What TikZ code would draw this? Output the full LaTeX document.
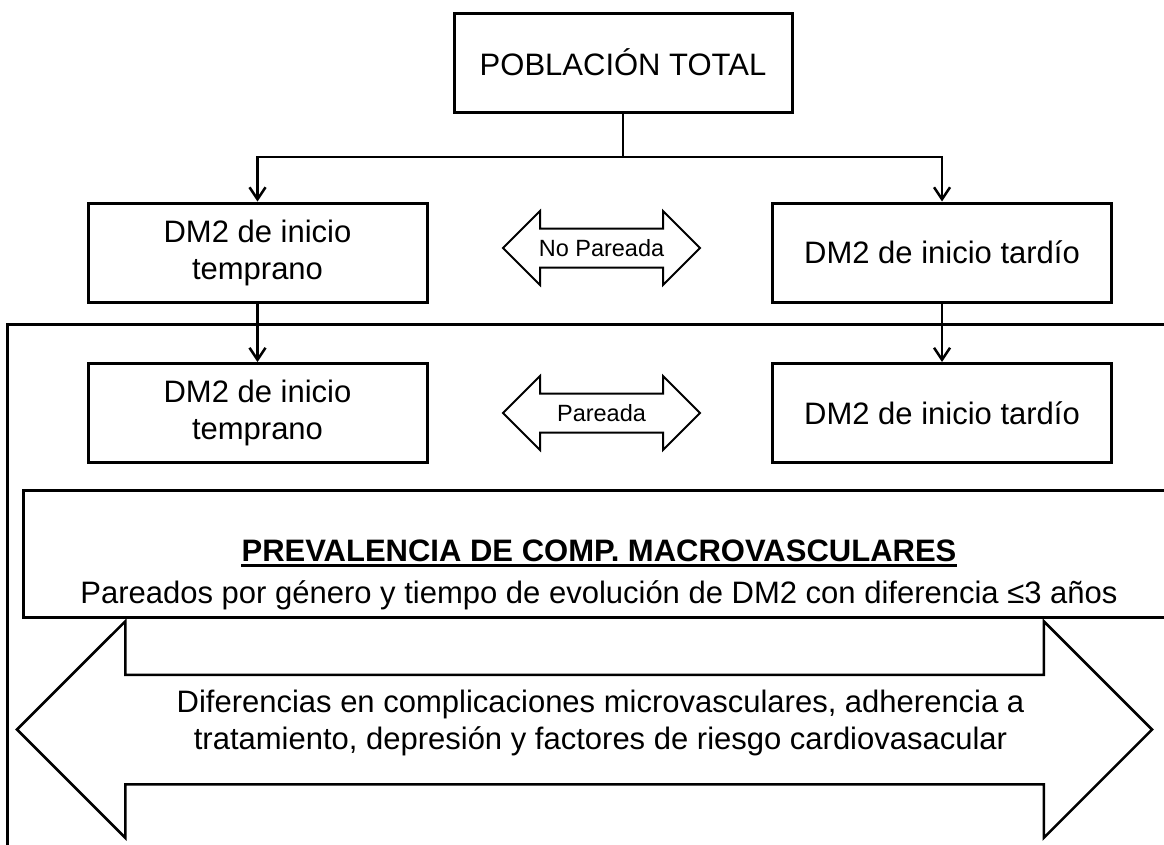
\documentclass[tikz,border=0pt]{standalone}
\usepackage{fontspec}
\setmainfont{Liberation Sans}
\usetikzlibrary{arrows.meta,shapes.arrows}

\tikzset{
    caja/.style={draw, line width=3pt, minimum width=339pt, minimum height=99pt, align=center, inner sep=0pt},
    flecha/.style={line width=2.5pt, -{Straight Barb[length=12pt,width=16pt]}},
    pareo/.style={double arrow, draw, line width=2pt, font=\fontsize{23.5}{28}\selectfont, minimum height=197pt, double arrow head extend=17.5pt, text height=17pt, text depth=0pt, inner ysep=10pt, inner xsep=0pt},
    grande/.style={double arrow, draw, line width=2.5pt, minimum height=1135pt, double arrow head extend=53.5pt, text height=23pt, text depth=44pt, inner ysep=20pt, inner xsep=0pt}
}

\begin{document}
\begin{tikzpicture}[x=1pt, y=-1pt, font=\fontsize{31}{37}\selectfont]
            \useasboundingbox (0,0) rectangle (1164,844);
            \clip (0,0) rectangle (1164,844);
            \draw[line width=3pt] (1190,324) -| (7,870);
            \node[caja, minimum width=338pt] (tot) at (623,62.5) {POBLACIÓN TOTAL};
            \node[caja] (et1) at (257.5,252.5) {DM2 de inicio\\temprano};
            \node[caja] (lt1) at (942,252.5) {DM2 de inicio tardío};
            \node[caja] (et2) at (257.5,413) {DM2 de inicio\\temprano};
            \node[caja] (lt2) at (942,413) {DM2 de inicio tardío};
            \node[pareo] (np) at (601.5,248) {No Pareada};
            \node[pareo] (pa) at (601.5,413) {Pareada};
            \coordinate (split) at (623,157);
            \draw[flecha] (tot.south) -- (split) -| (et1.north);
            \draw[flecha] (split) -| (lt1.north);
            \draw[flecha] (et1) -- (et2);
            \draw[flecha] (lt1) -- (lt2);
            % caja de prevalencia
            \node[draw, line width=3pt, minimum width=1152pt, minimum height=127pt] (prev) at (599,553.5) {};
            \node[font=\bfseries\fontsize{31}{37}\selectfont, inner sep=0pt, anchor=base] (ttl) at (599,561) {PREVALENCIA DE COMP. MACROVASCULARES};
            \draw[line width=2.3pt] ([yshift=-4.5pt]ttl.base west) -- ([yshift=-4.5pt]ttl.base east);
            \node[inner sep=0pt, anchor=base] (par) at (599,603) {Pareados por género y tiempo de evolución de DM2 con diferencia ≤3 años};
            % flecha grande
            \node[grande] (dif) at (584.5,729.5) {};
            \node[align=center, inner sep=0pt] (diftxt) at ([xshift=16pt,yshift=7pt]dif.center) {Diferencias en complicaciones microvasculares, adherencia a\\tratamiento, depresión y factores de riesgo cardiovasacular};
\end{tikzpicture}
\end{document}
